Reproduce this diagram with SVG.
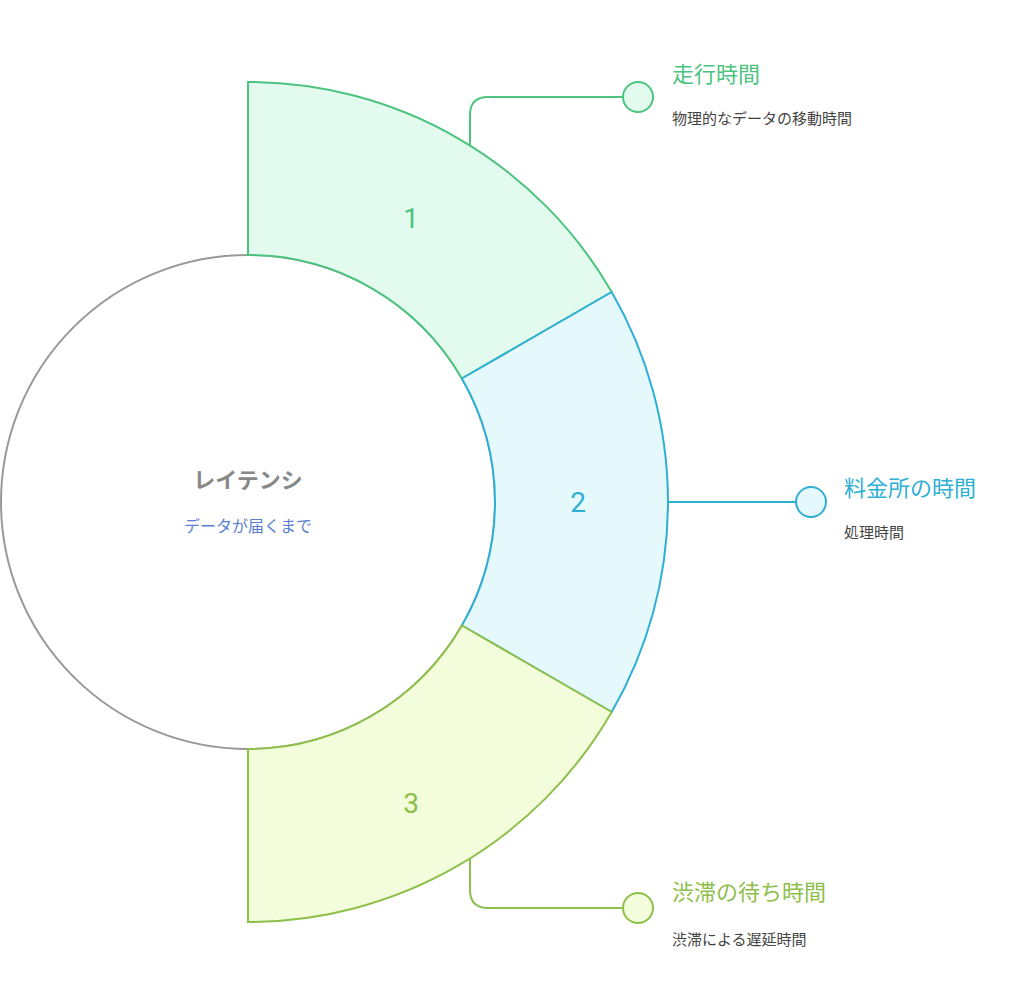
<svg xmlns="http://www.w3.org/2000/svg" width="1024" height="991" viewBox="0 0 1024 991">
<style>
text{font-family:"Noto Sans CJK JP","Noto Sans",sans-serif}
.num{font-family:Roboto,"Noto Sans",sans-serif;font-size:28px;text-anchor:middle}
.t{font-size:22px}
.d{font-size:15px;fill:#444}
.c{fill:none;stroke-width:2}
</style>
<rect width="1024" height="991" fill="#fff"/>
<g id="center">
<circle cx="248" cy="502" r="247" fill="#fff" stroke="#999" stroke-width="2"/>
<text x="248" y="488" font-size="22" font-weight="bold" fill="#888" text-anchor="middle">レイテンシ</text>
<text x="248" y="532" font-size="16" fill="#5B7FD0" text-anchor="middle">データが届くまで</text>
</g>
<g id="seg1">
<path d="M248,82 A420,420 0 0 1 611.7,292 L461.9,378.5 A247,247 0 0 0 248,255 Z" fill="#E3FBEF" stroke="#4CC47F" stroke-width="2"/>
<text class="num" x="411" y="228" fill="#4CC47F">1</text>
</g>
<g id="seg2">
<path d="M611.7,292 A420,420 0 0 1 611.7,712 L461.9,625.5 A247,247 0 0 0 461.9,378.5 Z" fill="#E5F8FC" stroke="#2EAFD4" stroke-width="2"/>
<text class="num" x="578" y="512" fill="#2EAFD4">2</text>
</g>
<g id="seg3">
<path d="M611.7,712 A420,420 0 0 1 248,922 L248,749 A247,247 0 0 0 461.9,625.5 Z" fill="#F3FCDB" stroke="#8DC04A" stroke-width="2"/>
<text class="num" x="411" y="813" fill="#8DC04A">3</text>
</g>
<g id="connectors">
<path class="c" d="M470,145 V115 Q470,97 488,97 H623" stroke="#4CC47F"/>
<path class="c" d="M668,502 H796" stroke="#2EAFD4"/>
<path class="c" d="M470,858 V890 Q470,908 488,908 H623" stroke="#8DC04A"/>
</g>
<g id="label1">
<circle cx="638" cy="97" r="15" fill="#E3FBEF" stroke="#4CC47F" stroke-width="2"/>
<text class="t" x="672" y="82" fill="#4CC47F">走行時間</text>
<text class="d" x="672" y="124">物理的なデータの移動時間</text>
</g>
<g id="label2">
<circle cx="811" cy="502" r="15" fill="#E5F8FC" stroke="#2EAFD4" stroke-width="2"/>
<text class="t" x="844" y="496" fill="#2EAFD4">料金所の時間</text>
<text class="d" x="844" y="538">処理時間</text>
</g>
<g id="label3">
<circle cx="638" cy="908" r="15" fill="#F3FCDB" stroke="#8DC04A" stroke-width="2"/>
<text class="t" x="672" y="900" fill="#8DC04A">渋滞の待ち時間</text>
<text class="d" x="672" y="945">渋滞による遅延時間</text>
</g>
</svg>
